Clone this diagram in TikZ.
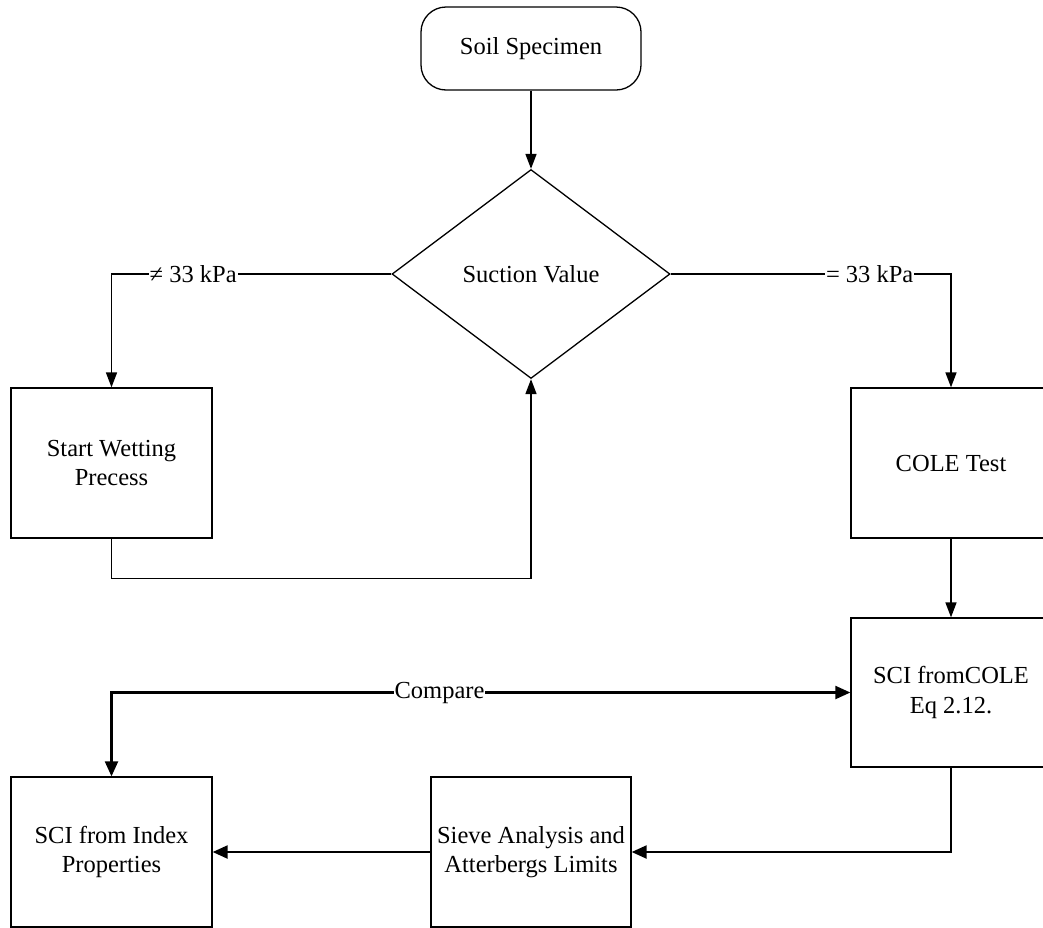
\documentclass[tikz,border=0pt]{standalone}
\usepackage{fontspec}
\setmainfont{Liberation Serif}
\usetikzlibrary{shapes.geometric,arrows.meta}
\tikzset{
  smalltip/.tip={Triangle[length=15pt,width=11pt]},
  bigtip/.tip={Triangle[length=15pt,width=13pt]}
}
\begin{document}
\begin{tikzpicture}[x=1pt,y=-1pt,
  every node/.style={font=\fontsize{24.5}{29.5}\selectfont},
  box/.style={draw,line width=1.3pt,minimum width=201pt,minimum height=150pt,inner sep=0pt,align=center},
  term/.style={draw,line width=1.3pt,rounded corners=25pt,minimum width=220pt,minimum height=83pt,inner sep=0pt},
  decision/.style={draw,line width=1.3pt,diamond,minimum width=278pt,minimum height=209pt,inner sep=0pt},
  conn/.style={line width=1.6pt,-smalltip},
  connb/.style={line width=2.2pt,-bigtip},
  lab/.style={fill=white,inner sep=1pt}
]
\useasboundingbox (0,0) rectangle (1043,927);
\node[term] (soil) at (531,48.5) {Soil Specimen};
\node[decision] (dia) at (531,274) {Suction Value};
\node[box] (wet) at (111.5,463) {Start Wetting\\Precess};
\node[box,minimum width=200pt] (cole) at (951,463) {COLE Test};
\node[box,minimum width=200pt,minimum height=149pt] (scicole) at (951,692.5) {SCI fromCOLE\\Eq 2.12.};
\node[box] (index) at (111.5,852) {SCI from Index\\Properties};
\node[box,minimum width=200pt] (sieve) at (531,852) {Sieve Analysis and\\Atterbergs Limits};
\draw[conn] (soil) -- (dia);
\draw[conn] (dia.west) -| node[lab,pos=0.354] {≠ 33 kPa} (wet.north);
\draw[conn] (dia.east) -| node[lab,pos=0.355] {= 33 kPa} (cole.north);
\draw[conn] (wet.south) -- ++(0,40) -| (dia.south);
\draw[conn] (cole) -- (scicole);
\draw[connb,bigtip-bigtip] (scicole.west) -| node[lab,pos=0.278] {Compare} (index.north);
\draw[connb] (scicole.south) |- (sieve.east);
\draw[connb] (sieve) -- (index);
\end{tikzpicture}
\end{document}
